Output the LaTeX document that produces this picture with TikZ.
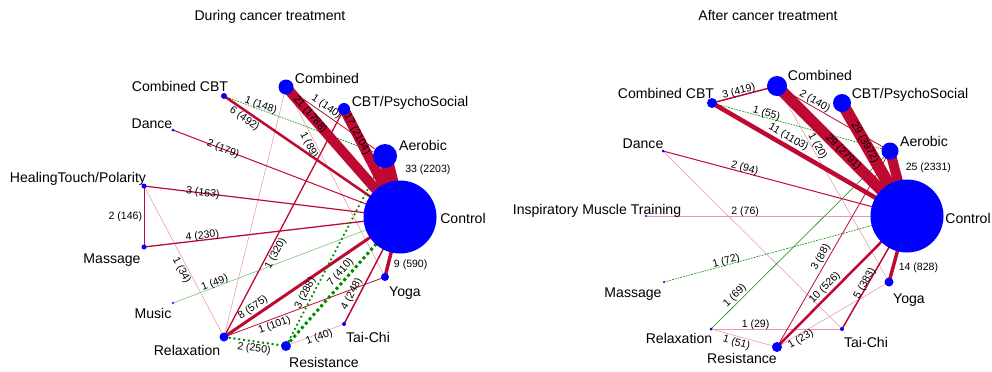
\documentclass[tikz,border=0pt]{standalone}
\usepackage{fontspec}
\setmainfont{Liberation Sans}
\usepackage{tikz}
\usetikzlibrary{backgrounds}

\definecolor{netblue}{RGB}{0,0,255}
\definecolor{netred}{RGB}{190,10,50}
\definecolor{netpink}{RGB}{236,150,172}
\definecolor{netgreen}{RGB}{0,140,0}
\definecolor{netlgreen}{RGB}{130,205,130}

\begin{document}
\begin{tikzpicture}[x=0.025cm, y=-0.025cm,
    netdot/.style={circle, fill=netblue, inner sep=0pt, minimum size=#1*0.05cm},
    lbl/.style={anchor=base, inner sep=0pt, font=\fontsize{10}{12}\selectfont},
    elab/.style={font=\fontsize{7.5}{9}\selectfont, inner sep=1pt},
    slab/.style={elab, sloped},
    redge/.style={draw=netred, line width=#1*0.71pt},
    pedge/.style={draw=netpink, line width=0.4pt},
    gdot/.style={draw=netgreen, line width=#1*0.71pt, dotted},
    gdash/.style={draw=netgreen, line width=0.45pt, dash pattern=on 1.2pt off 0.8pt},
    gline/.style={draw=netgreen, line width=0.4pt},
    lgline/.style={draw=netlgreen, line width=0.5pt}
]
\useasboundingbox (0,0) rectangle (992,371);

% ====================== TITLES ======================
\node[lbl] (dTitle) at (270,20) {During cancer treatment};
\node[lbl] (aTitle) at (768,20) {After cancer treatment};

% ====================== DURING: NODES ======================
\node[netdot=36.5] (dControl) at (400,217) {};
\node[netdot=12]   (dAerobic) at (385,156) {};
\node[netdot=6]    (dCBT)     at (344,109) {};
\node[netdot=7.5]  (dComb)    at (286,87)  {};
\node[netdot=3]    (dCombCBT) at (224,96)  {};
\node[netdot=1.5]  (dDance)   at (173,130) {};
\node[netdot=2.5]  (dHT)      at (144,186) {};
\node[netdot=2.5]  (dMassage) at (144,247) {};
\node[netdot=1.2]  (dMusic)   at (173,303) {};
\node[netdot=4.5]  (dRelax)   at (224,337) {};
\node[netdot=5]    (dResist)  at (286,346) {};
\node[netdot=2]    (dTai)     at (344,324) {};
\node[netdot=4]    (dYoga)    at (385,277) {};

\node[lbl] (dControlLbl) at (463,223) {Control};
\node[lbl] (dAerobicLbl) at (423,150) {Aerobic};
\node[lbl] (dCBTLbl)     at (410,106) {CBT/PsychoSocial};
\node[lbl] (dCombLbl)    at (327,83)  {Combined};
\node[lbl] (dCombCBTLbl) at (180,91)  {Combined CBT};
\node[lbl] (dDanceLbl)   at (152,128) {Dance};
\node[lbl] (dHTLbl)      at (78,182)  {HealingTouch/Polarity};
\node[lbl] (dMassageLbl) at (112,263) {Massage};
\node[lbl] (dMusicLbl)   at (153,318) {Music};
\node[lbl] (dRelaxLbl)   at (187,355) {Relaxation};
\node[lbl] (dResistLbl)  at (324,367) {Resistance};
\node[lbl] (dTaiLbl)     at (368,342) {Tai-Chi};
\node[lbl] (dYogaLbl)    at (405,296) {Yoga};

% ====================== AFTER: NODES ======================
\node[netdot=36.5] (aControl) at (907,216) {};
\node[netdot=8.5]  (aAerobic) at (890,151) {};
\node[netdot=9]    (aCBT)     at (842,103) {};
\node[netdot=10]   (aComb)    at (777,86)  {};
\node[netdot=5]    (aCombCBT) at (712,103) {};
\node[netdot=1.5]  (aDance)   at (663,151) {};
\node[netdot=1.2]  (aIMT)     at (646,216) {};
\node[netdot=1.2]  (aMassage) at (664,282) {};
\node[netdot=1.5]  (aRelax)   at (711,329) {};
\node[netdot=5]    (aResist)  at (777,347) {};
\node[netdot=2]    (aTai)     at (842,329) {};
\node[netdot=4.5]  (aYoga)    at (889,282) {};

\node[lbl] (aControlLbl) at (968,223) {Control};
\node[lbl] (aAerobicLbl) at (924,146) {Aerobic};
\node[lbl] (aCBTLbl)     at (910,98)  {CBT/PsychoSocial};
\node[lbl] (aCombLbl)    at (820,80)  {Combined};
\node[lbl] (aCombCBTLbl) at (666,98)  {Combined CBT};
\node[lbl] (aDanceLbl)   at (643,148) {Dance};
\node[lbl] (aIMTLbl)     at (597,214) {Inspiratory Muscle Training};
\node[lbl] (aMassageLbl) at (633,297) {Massage};
\node[lbl] (aRelaxLbl)   at (679,343) {Relaxation};
\node[lbl] (aResistLbl)  at (742,363) {Resistance};
\node[lbl] (aTaiLbl)     at (866,347) {Tai-Chi};
\node[lbl] (aYogaLbl)    at (909,303) {Yoga};

\begin{pgfonlayer}{background}
% ====================== DURING: EDGES ======================
\draw[pedge] (dComb.center) -- (dRelax.center);
\draw[pedge] (dComb.center) -- node[slab, pos=0.29, below] {1 (89)} (dYoga.center);
\draw[pedge] (dHT.center) -- node[slab, pos=0.54, below] {1 (34)} (dRelax.center);
\draw[pedge] (dResist.center) -- node[slab, pos=0.55, below=-2pt] {1 (40)} (dTai.center);
\draw[lgline] (dMusic.center) -- node[slab, pos=0.19, above=-2pt] {1 (49)} (dControl.center);
\draw[gdash] (dCombCBT.center) -- node[slab, pos=0.22, above=-2pt] {1 (148)} (dAerobic.center);
\draw[redge=0.8] (dComb.center) -- node[slab, pos=0.37, above] {1 (140)} (dAerobic.center);
\draw[redge=0.8] (dRelax.center) -- node[slab, pos=0.3, below] {1 (101)} (dYoga.center);
\draw[redge=1.3] (dRelax.center) -- node[slab, pos=0.38, below] {1 (320)} (dCBT.center);
\draw[redge=1] (dDance.center) -- node[slab, pos=0.22] {2 (179)} (dControl.center);
\draw[redge=1.2] (dHT.center) -- node[slab, pos=0.23] {3 (163)} (dControl.center);
\draw[redge=1] (dHT.center) -- node[elab, pos=0.5, left] {2 (146)} (dMassage.center);
\draw[redge=1.3] (dMassage.center) -- node[slab, pos=0.23, above=-2pt] {4 (230)} (dControl.center);
\draw[redge=1.5] (dTai.center) -- node[slab, pos=0.25, above] {4 (248)} (dControl.center);
\draw[redge=2.5] (dCombCBT.center) -- node[slab, pos=0.14, below] {6 (492)} (dControl.center);
\draw[redge=3] (dRelax.center) -- node[slab, pos=0.19, above] {8 (575)} (dControl.center);
\draw[redge=3.5] (dYoga.center) -- node[elab, pos=0.2, right=2pt] {9 (590)} (dControl.center);
\draw[gdot=2] (dRelax.center) -- node[slab, pos=0.5, below] {2 (250)} (dResist.center);
\draw[gdot=1.8] (dResist.center) -- node[slab, pos=0.26, above] {3 (288)} (dAerobic.center);
\draw[gdot=3] (dResist.center) -- node[slab, pos=0.53, above] {7 (410)} (dControl.center);
\draw[redge=10] (dComb.center) -- node[slab, pos=0.21] {21 (1788)} (dControl.center);
\draw[redge=10] (dCBT.center) -- node[slab, pos=0.23] {17 (2104)} (dControl.center);
\draw[redge=14] (dAerobic.center) -- node[elab, pos=0.23, right=6pt] {33 (2203)} (dControl.center);

% ====================== AFTER: EDGES ======================
\draw[pedge] (aDance.center) -- (aTai.center);
\draw[pedge] (aComb.center) -- node[slab, pos=0.32, above=-1pt] {1 (20)} (aYoga.center);
\draw[pedge] (aIMT.center) -- node[slab, pos=0.38, above=-2pt] {2 (76)} (aControl.center);
\draw[pedge] (aRelax.center) -- node[slab, pos=0.34, above=-2pt] {1 (29)} (aTai.center);
\draw[pedge] (aRelax.center) -- node[slab, pos=0.41, below] {1 (51)} (aResist.center);
\draw[pedge] (aResist.center) -- node[slab, pos=0.19, below=-1pt] {1 (23)} (aYoga.center);
\draw[gdash] (aCombCBT.center) -- node[slab, pos=0.3, above=-2pt] {1 (55)} (aAerobic.center);
\draw[gdash] (aMassage.center) -- node[slab, pos=0.26, above=-2pt] {1 (72)} (aControl.center);
\draw[gline] (aRelax.center) -- node[slab, pos=0.16, above] {1 (69)} (aAerobic.center);
\draw[redge=0.8] (aComb.center) -- node[slab, pos=0.31, above=-1pt] {2 (140)} (aAerobic.center);
\draw[redge=0.8] (aResist.center) -- node[slab, pos=0.44, above] {3 (88)} (aAerobic.center);
\draw[redge=1] (aDance.center) -- node[slab, pos=0.33, above=-2pt] {2 (94)} (aControl.center);
\draw[redge=1.5] (aCombCBT.center) -- node[slab, pos=0.43, above=-2pt] {3 (419)} (aComb.center);
\draw[redge=1.5] (aTai.center) -- node[slab, pos=0.39, above=-3pt] {5 (383)} (aControl.center);
\draw[redge=2.5] (aResist.center) -- node[slab, pos=0.41, above] {10 (526)} (aControl.center);
\draw[redge=3.5] (aYoga.center) -- node[elab, pos=0.21, right=2pt] {14 (828)} (aControl.center);
\draw[redge=4.5] (aCombCBT.center) -- node[slab, pos=0.37, above] {11 (1103)} (aControl.center);
\draw[redge=10] (aAerobic.center) -- node[elab, pos=0.26, right=3.5pt] {25 (2331)} (aControl.center);
\draw[redge=11] (aComb.center) -- node[slab, pos=0.51] {29 (2791)} (aControl.center);
\draw[redge=12] (aCBT.center) -- node[slab, pos=0.35] {29 (3972)} (aControl.center);
\end{pgfonlayer}

\end{tikzpicture}
\end{document}
